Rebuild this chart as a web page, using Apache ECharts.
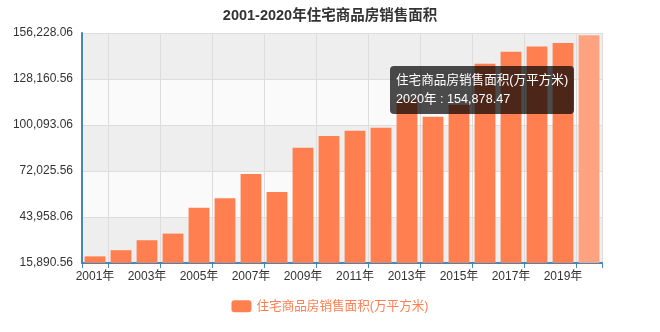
<!DOCTYPE html>
<html>
<head>
<meta charset="utf-8">
<title>2001-2020年住宅商品房销售面积</title>
<script src="https://cdn.jsdelivr.net/npm/echarts@6/dist/echarts.min.js"></script>
<style>
  html, body { margin: 0; padding: 0; background: #ffffff; }
  #chart { width: 660px; height: 332px; }
</style>
</head>
<body>
<div id="chart"></div>
<script>
// Residential commercial housing sales area, 2001-2020 (万平方米)
const years = ['2001年', '2002年', '2003年', '2004年', '2005年', '2006年', '2007年', '2008年', '2009年', '2010年',
               '2011年', '2012年', '2013年', '2014年', '2015年', '2016年', '2017年', '2018年', '2019年', '2020年'];
const salesArea = [19938.75, 23702.31, 29778.85, 33819.89, 49587.83, 55422.95, 70135.88, 59280.35, 86184.89, 93376.60,
                   96528.41, 98467.51, 115722.69, 105187.79, 112412.29, 137539.93, 144788.77, 147929.44, 150144.32, 154878.47];
const seriesName = '住宅商品房销售面积(万平方米)';
const chartTitle = '2001-2020年住宅商品房销售面积';
// value-axis range and step: ticks run 15,890.56 → 156,228.06
const yMin = 15890.56;
const yMax = 156228.06;
const yStep = 28067.5;

const FONT = "'Liberation Sans', 'Noto Sans CJK SC', sans-serif";
const AXIS_BLUE = '#4488bb';
const BAR = '#ff7f50';

const chart = echarts.init(document.getElementById('chart'), null, { renderer: 'canvas' });

chart.setOption({
  animation: false,
  textStyle: { fontFamily: FONT },
  title: {
    text: chartTitle,
    left: 'center',
    top: 9,
    padding: 0,
    textStyle: { fontSize: 14.5, fontWeight: 'bold', color: '#333', fontFamily: FONT }
  },
  legend: {
    data: [seriesName],
    left: 'center',
    top: 300,
    padding: 0,
    itemWidth: 20,
    itemHeight: 12,
    itemGap: 10,
    icon: 'roundRect',
    textStyle: { color: BAR, fontSize: 12.6, fontFamily: FONT }
  },
  tooltip: {
    trigger: 'item',
    alwaysShowContent: true,
    transitionDuration: 0,
    backgroundColor: 'rgba(0,0,0,0.7)',
    borderWidth: 0,
    borderRadius: 4,
    padding: [5, 6],
    extraCssText: 'box-shadow:none;',
    textStyle: { color: '#fff', fontSize: 12.6, lineHeight: 19, fontFamily: FONT },
    position: [390, 66],
    formatter: function (p) {
      return p.seriesName + '<br/>' + p.name + ' : ' + echarts.format.addCommas(p.value);
    }
  },
  grid: { left: 82, right: 58, top: 33, bottom: 69 },
  xAxis: {
    type: 'category',
    data: years,
    boundaryGap: true,
    axisLine: { lineStyle: { color: AXIS_BLUE, width: 2 } },
    axisTick: {
      show: true,
      length: 5,
      interval: function (i) { return i === 0 || i % 2 === 1; },
      lineStyle: { color: AXIS_BLUE, width: 1 }
    },
    axisLabel: {
      interval: function (i) { return i % 2 === 0; },
      color: '#333',
      fontSize: 12,
      margin: 8,
      fontFamily: FONT
    },
    splitLine: {
      show: true,
      interval: function (i) { return i === 0 || i % 2 === 1; },
      lineStyle: { color: '#dddddd', width: 1 }
    }
  },
  yAxis: {
    type: 'value',
    min: yMin,
    max: yMax,
    interval: yStep,
    axisLine: { show: true, lineStyle: { color: AXIS_BLUE, width: 2 } },
    axisTick: { show: false },
    axisLabel: {
      color: '#333',
      fontSize: 12,
      margin: 9,
      fontFamily: FONT,
      formatter: function (v) { return echarts.format.addCommas(v.toFixed(2)); }
    },
    splitLine: { show: true, lineStyle: { color: '#dddddd', width: 1 } },
    splitArea: { show: true, areaStyle: { color: ['#eeeeee', '#fafafa'] } }
  },
  series: [{
    name: seriesName,
    type: 'bar',
    data: salesArea,
    barCategoryGap: '20%',
    itemStyle: { color: BAR },
    emphasis: { itemStyle: { color: '#ffa27f' } }
  }]
});

// keep the 2020 bar highlighted with its tooltip open
chart.dispatchAction({ type: 'highlight', seriesIndex: 0, dataIndex: 19 });
chart.dispatchAction({ type: 'showTip', seriesIndex: 0, dataIndex: 19 });
</script>
</body>
</html>
